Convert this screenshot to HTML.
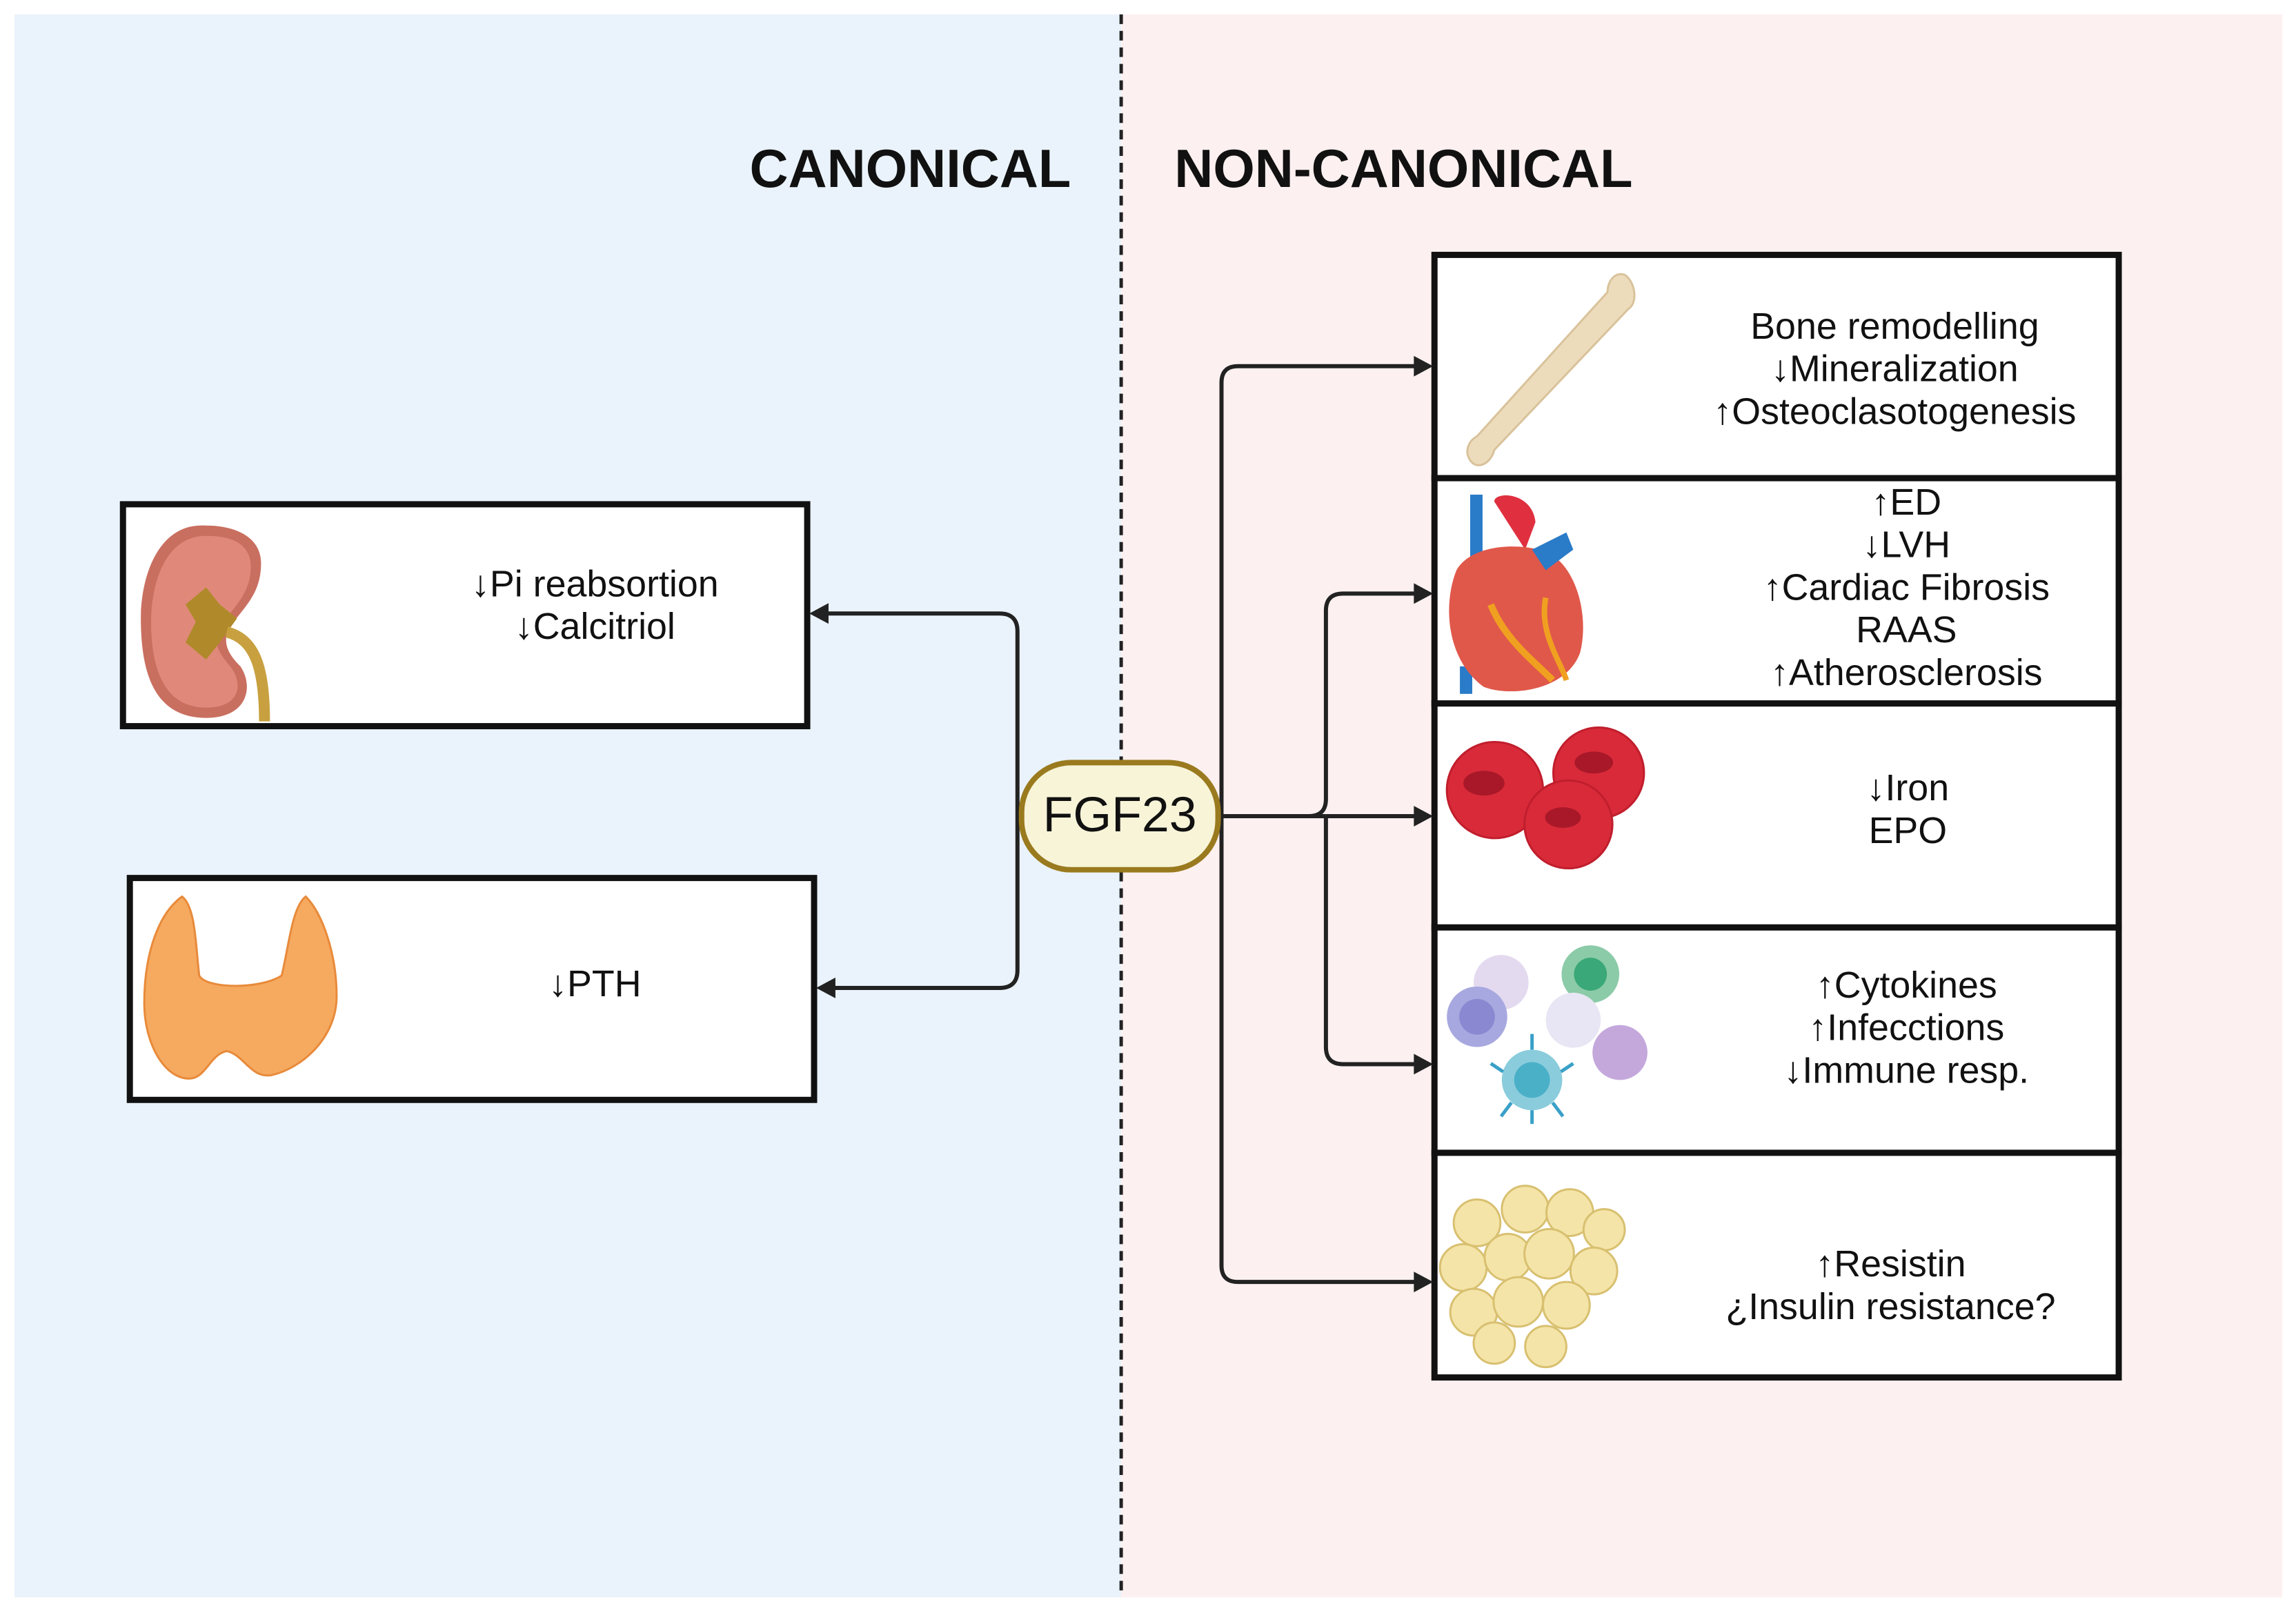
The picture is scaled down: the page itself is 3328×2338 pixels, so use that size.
<!DOCTYPE html>
<html><head><meta charset="utf-8"><style>
html,body{margin:0;padding:0;background:#fff;}
svg{display:block;}
text{font-family:"Liberation Sans",sans-serif;fill:#111;}
</style></head><body>
<svg width="3328" height="2338" viewBox="0 0 3328 2338" xmlns="http://www.w3.org/2000/svg">
<g transform="scale(0.9958)">
<rect x="21" y="21" width="1611" height="2304" fill="#eaf3fc"/>
<rect x="1632" y="21" width="1690" height="2304" fill="#fdf0f0"/>
<line x1="1632" y1="21" x2="1632" y2="2325" stroke="#222" stroke-width="5" stroke-dasharray="14,10"/>

<text x="1325" y="272" font-size="78" font-weight="bold" text-anchor="middle">CANONICAL</text>
<text x="2043" y="272" font-size="78" font-weight="bold" text-anchor="middle">NON-CANONICAL</text>

<rect x="179" y="734" width="996" height="323" fill="#fff" stroke="#111" stroke-width="9"/>
<rect x="189" y="1278" width="996" height="323" fill="#fff" stroke="#111" stroke-width="9"/>
<g font-size="54" text-anchor="middle">
<text x="866" y="868">↓Pi reabsortion</text>
<text x="866" y="930">↓Calcitriol</text>
<text x="866" y="1450">↓PTH</text>
</g>

<g fill="#fff" stroke="#111" stroke-width="9">
<rect x="2088" y="371" width="996" height="325"/>
<rect x="2088" y="696" width="996" height="328"/>
<rect x="2088" y="1024" width="996" height="326"/>
<rect x="2088" y="1350" width="996" height="328"/>
<rect x="2088" y="1678" width="996" height="327"/>
</g>
<g font-size="54" text-anchor="middle">
<text x="2758" y="493">Bone remodelling</text>
<text x="2758" y="555">↓Mineralization</text>
<text x="2758" y="617">↑Osteoclasotogenesis</text>
<text x="2775" y="749">↑ED</text>
<text x="2775" y="811">↓LVH</text>
<text x="2775" y="873">↑Cardiac Fibrosis</text>
<text x="2775" y="935">RAAS</text>
<text x="2775" y="997">↑Atherosclerosis</text>
<text x="2777" y="1165">↓Iron</text>
<text x="2777" y="1227">EPO</text>
<text x="2775" y="1452">↑Cytokines</text>
<text x="2775" y="1514">↑Infecctions</text>
<text x="2775" y="1576">↓Immune resp.</text>
<text x="2752" y="1858">↑Resistin</text>
<text x="2752" y="1920">¿Insulin resistance?</text>
</g>

<g fill="none" stroke="#222" stroke-width="6">
<path d="M1195 893 L1455 893 Q1481 893 1481 919 L1481 1412 Q1481 1438 1455 1438 L1205 1438"/>
<path d="M1773 1188 L1930 1188"/>
<path d="M2070 533 L1802 533 Q1778 533 1778 557 L1778 1842 Q1778 1866 1802 1866 L2070 1866"/>
<path d="M2070 864 L1955 864 Q1930 864 1930 889 L1930 1163 Q1930 1188 1905 1188"/>
<path d="M1930 1188 L1930 1524 Q1930 1549 1955 1549 L2070 1549"/>
<path d="M1930 1188 L2070 1188"/>
</g>
<g fill="#222">
<polygon points="1178,893 1206,878 1206,908"/>
<polygon points="1188,1438 1216,1423 1216,1453"/>
<polygon points="2086,533 2058,518 2058,548"/>
<polygon points="2086,864 2058,849 2058,879"/>
<polygon points="2086,1188 2058,1173 2058,1203"/>
<polygon points="2086,1549 2058,1534 2058,1564"/>
<polygon points="2086,1866 2058,1851 2058,1881"/>
</g>

<rect x="1487" y="1110" width="286" height="156" rx="72" fill="#f7f4d8" stroke="#9a7a1e" stroke-width="8"/>
<text x="1630" y="1210" font-size="72" text-anchor="middle">FGF23</text>

<g>
<path d="M300 765 C230 760 205 840 205 900 C205 980 225 1045 300 1045 C360 1045 370 1000 350 970 C330 950 320 930 340 905 C360 880 380 860 380 820 C380 780 340 765 300 765 Z" fill="#c96f60"/>
<path d="M300 780 C240 780 220 850 220 905 C220 975 240 1030 300 1030 C350 1030 355 995 335 970 C318 950 305 930 325 905 C345 880 365 860 365 825 C365 790 335 780 300 780 Z" fill="#e0897a"/>
<path d="M270 880 L300 855 L320 880 L345 900 L320 935 L300 960 L270 935 L285 905 Z" fill="#b08a2a"/>
<path d="M330 920 C370 930 385 970 385 1050" stroke="#c8a040" stroke-width="16" fill="none"/>
</g>

<g fill="#f5aa60" stroke="#e88a3a" stroke-width="3">
<path d="M265 1305 C230 1330 210 1390 210 1460 C210 1520 240 1570 275 1570 C300 1570 305 1535 330 1530 C355 1535 365 1570 395 1565 C440 1555 490 1510 490 1450 C490 1390 470 1330 445 1305 C425 1320 420 1380 410 1420 C380 1440 300 1440 290 1420 C285 1380 285 1320 265 1305 Z"/>
</g>

<path d="M2365 400 C2380 410 2385 440 2370 450 L2175 655 C2170 675 2150 685 2140 670 C2130 655 2140 640 2150 635 L2340 425 C2340 410 2350 395 2365 400 Z" fill="#ecdcbc" stroke="#d9c29a" stroke-width="3"/>

<g>
<rect x="2140" y="720" width="18" height="100" fill="#2a7bc8"/>
<rect x="2125" y="970" width="18" height="40" fill="#2a7bc8"/>
<path d="M2175 730 C2175 715 2230 715 2235 760 L2220 800 Z" fill="#e03040"/>
<path d="M2120 830 C2100 880 2105 960 2160 1000 C2200 1015 2280 1005 2300 950 C2315 890 2290 810 2240 800 C2200 790 2140 795 2120 830 Z" fill="#e0584a"/>
<path d="M2230 800 L2280 775 L2290 800 L2250 830 Z" fill="#2a7bc8"/>
<path d="M2170 880 C2190 930 2230 960 2260 990" stroke="#f0a020" stroke-width="10" fill="none"/>
<path d="M2250 870 C2240 920 2270 960 2280 990" stroke="#f0a020" stroke-width="8" fill="none"/>
</g>

<g fill="#d92a3a" stroke="#c01e2c" stroke-width="3">
<circle cx="2327" cy="1125" r="66"/>
<circle cx="2176" cy="1150" r="70"/>
<circle cx="2283" cy="1200" r="64"/>
</g>
<g fill="#a81828">
<ellipse cx="2160" cy="1140" rx="30" ry="18"/>
<ellipse cx="2320" cy="1110" rx="28" ry="16"/>
<ellipse cx="2275" cy="1190" rx="26" ry="15"/>
</g>

<g>
<circle cx="2185" cy="1430" r="40" fill="#e4daf0"/>
<circle cx="2315" cy="1418" r="42" fill="#8ccba8"/><circle cx="2315" cy="1418" r="24" fill="#3aa878"/>
<circle cx="2150" cy="1480" r="44" fill="#a8a8e0"/><circle cx="2150" cy="1480" r="26" fill="#8a88d0"/>
<circle cx="2290" cy="1485" r="40" fill="#e8e6f4"/>
<circle cx="2358" cy="1532" r="40" fill="#c4a8dc"/>
<circle cx="2230" cy="1572" r="44" fill="#8accdc"/><circle cx="2230" cy="1572" r="26" fill="#4ab0c8"/>
<g stroke="#3aa0c8" stroke-width="5"><line x1="2230" y1="1528" x2="2230" y2="1505"/><line x1="2188" y1="1560" x2="2170" y2="1548"/><line x1="2272" y1="1560" x2="2290" y2="1548"/><line x1="2200" y1="1605" x2="2185" y2="1625"/><line x1="2260" y1="1605" x2="2275" y2="1625"/><line x1="2230" y1="1616" x2="2230" y2="1636"/></g>
</g>

<g fill="#f4e4a8" stroke="#d8c070" stroke-width="3">
<circle cx="2150" cy="1780" r="34"/><circle cx="2220" cy="1760" r="34"/><circle cx="2285" cy="1765" r="34"/><circle cx="2335" cy="1790" r="30"/>
<circle cx="2130" cy="1845" r="34"/><circle cx="2195" cy="1830" r="34"/><circle cx="2255" cy="1825" r="36"/><circle cx="2320" cy="1850" r="34"/>
<circle cx="2145" cy="1910" r="34"/><circle cx="2210" cy="1895" r="36"/><circle cx="2280" cy="1900" r="34"/>
<circle cx="2175" cy="1955" r="30"/><circle cx="2250" cy="1960" r="30"/>
</g>
</g>
</svg>
</body></html>
